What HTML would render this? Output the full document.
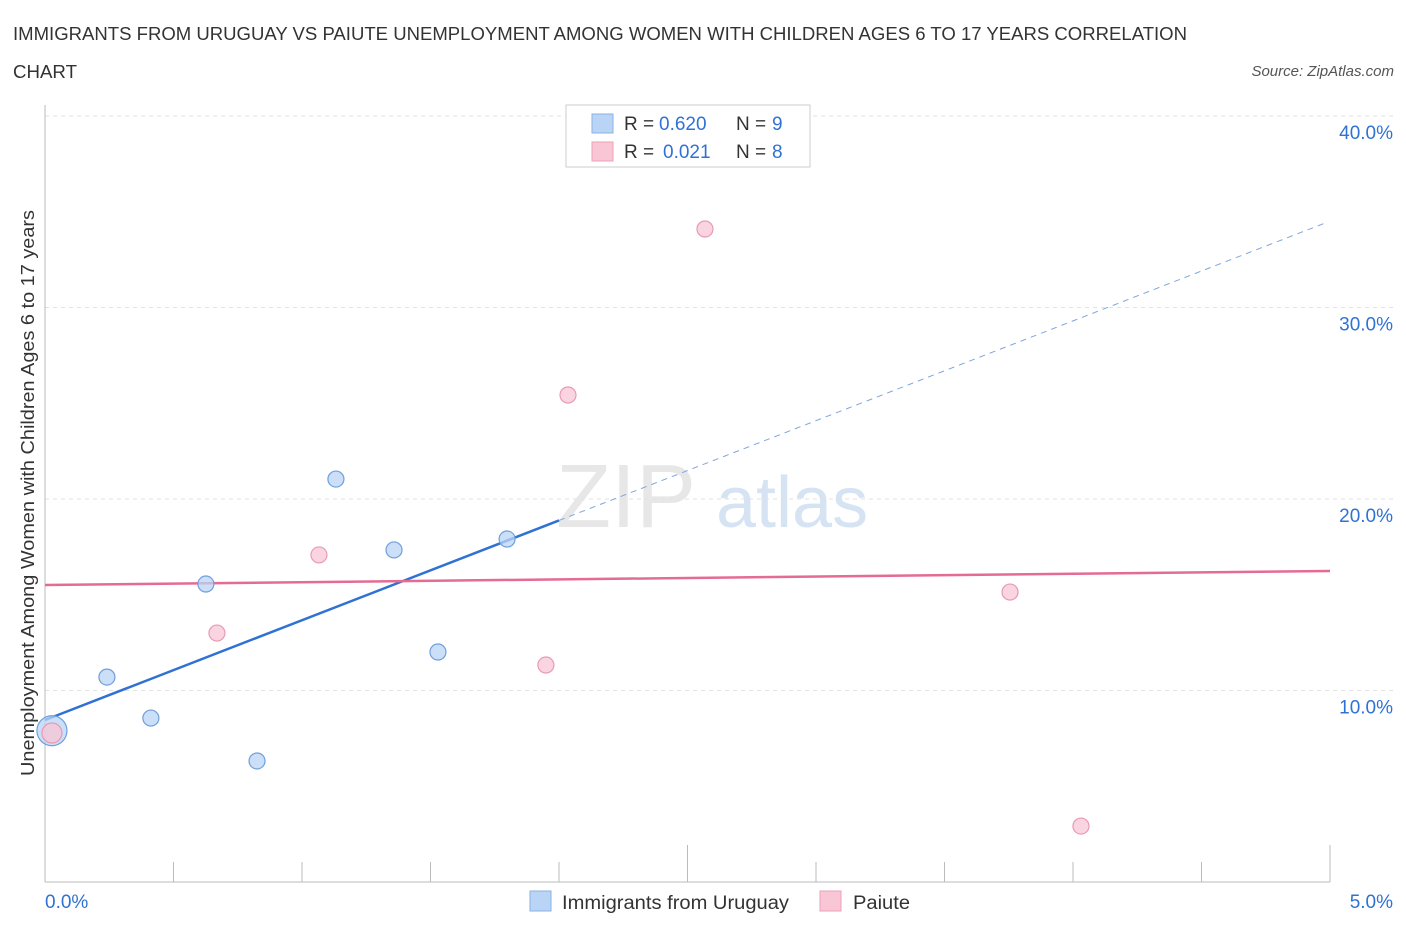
<!DOCTYPE html>
<html><head><meta charset="utf-8">
<style>
body{margin:0;background:#fff;font-family:"Liberation Sans",sans-serif;}
svg text{font-family:"Liberation Sans",sans-serif;}
</style></head>
<body>
<svg id="chart" width="1406" height="930" xmlns="http://www.w3.org/2000/svg">
<text x="13" y="40" font-size="18" fill="#333" textLength="1174" lengthAdjust="spacingAndGlyphs">IMMIGRANTS FROM URUGUAY VS PAIUTE UNEMPLOYMENT AMONG WOMEN WITH CHILDREN AGES 6 TO 17 YEARS CORRELATION</text>
<text x="13" y="78" font-size="18" fill="#333" textLength="64" lengthAdjust="spacingAndGlyphs">CHART</text>
<text x="1394" y="76" font-size="15" fill="#555" font-style="italic" text-anchor="end">Source: ZipAtlas.com</text>
<text transform="translate(34,493) rotate(-90)" font-size="18" fill="#333" text-anchor="middle" textLength="566" lengthAdjust="spacingAndGlyphs">Unemployment Among Women with Children Ages 6 to 17 years</text>
<text x="556" y="527" font-size="90" fill="#ddd" font-family="Liberation Serif" opacity="0.7">ZIP</text>
<text x="716" y="527" font-size="72" fill="#c5d8ef" opacity="0.7">atlas</text>
<g id="grid"></g><g id="axes"></g><g id="lines"></g><g id="points"></g>
<g>
<rect x="566" y="105" width="244" height="62" fill="#fff" stroke="#ccc"/>
<rect x="592" y="114" width="21" height="19" fill="#b9d4f5" stroke="#8ab2e6"/>
<text x="624" y="130" font-size="19" fill="#333">R =</text>
<text x="659" y="130" font-size="19" fill="#2f72d4">0.620</text>
<text x="736" y="130" font-size="19" fill="#333">N =</text>
<text x="772" y="130" font-size="19" fill="#2f72d4">9</text>
<rect x="592" y="142" width="21" height="19" fill="#f8c6d5" stroke="#eba1b7"/>
<text x="624" y="158" font-size="19" fill="#333">R =</text>
<text x="663" y="158" font-size="19" fill="#2f72d4">0.021</text>
<text x="736" y="158" font-size="19" fill="#333">N =</text>
<text x="772" y="158" font-size="19" fill="#2f72d4">8</text>
</g>
<g>
<rect x="530" y="891" width="21" height="20" fill="#b9d4f5" stroke="#8ab2e6"/>
<text x="562" y="909" font-size="19" fill="#333" textLength="227" lengthAdjust="spacingAndGlyphs">Immigrants from Uruguay</text>
<rect x="820" y="891" width="21" height="20" fill="#f8c6d5" stroke="#eba1b7"/>
<text x="853" y="909" font-size="19" fill="#333" textLength="57" lengthAdjust="spacingAndGlyphs">Paiute</text>
</g>
</svg>
<script>
const blueX=[0.027,0.241,0.412,0.626,0.825,1.132,1.358,1.529,1.798];
const blueY=[7.9,10.7,8.56,15.56,6.32,21.04,17.34,12.01,17.91];
const pinkX=[0.027,0.669,1.066,1.949,2.035,2.568,3.755,4.031];
const pinkY=[7.78,13.0,17.08,11.33,25.43,34.1,15.14,2.92];
const blueFit=[8.46,5.21];
const pinkFit=[15.51,0.146];
const yTicks=[10,20,30,40];
const yTickLabels=["10.0%","20.0%","30.0%","40.0%"];
const NS="http://www.w3.org/2000/svg";
const X=v=>45+v/5*1285, Y=v=>882-v*19.15;
function mk(t,a,p){const e=document.createElementNS(NS,t);for(const k in a)e.setAttribute(k,a[k]);document.getElementById(p).appendChild(e);return e;}
yTicks.forEach((t,i)=>{
 const g=mk('line',{x1:45,x2:1394,y1:Y(t),y2:Y(t),stroke:'#e2e2e2','stroke-dasharray':'4,4'},'grid');
 
 
 const l=mk('text',{x:1393,y:Y(t)+23,'font-size':19,fill:'#2f72d4','text-anchor':'end'},'axes');
 l.textContent=yTickLabels[i];
 
 
});
let ax=mk('line',{x1:45,x2:45,y1:105,y2:882,stroke:'#bbb'},'axes');


ax=mk('line',{x1:45,x2:1330,y1:882,y2:882,stroke:'#bbb'},'axes');


for(let i=0;i<=10;i++){const v=i*0.5;const tk=mk('line',{x1:X(v),x2:X(v),y1:(i%5==0&&i>0)?845:862,y2:882,stroke:'#bbb'},'axes');
 
 }
let xl=mk('text',{x:45,y:908,'font-size':19,fill:'#2f72d4'},'axes');xl.textContent='0.0%';


xl=mk('text',{x:1393,y:908,'font-size':19,fill:'#2f72d4','text-anchor':'end'},'axes');xl.textContent='5.0%';


const bf=x=>blueFit[0]+blueFit[1]*x, pf=x=>pinkFit[0]+pinkFit[1]*x;
let ln=mk('line',{x1:X(0),y1:Y(bf(0)),x2:X(2),y2:Y(bf(2)),stroke:'#2f72d4','stroke-width':2.5},'lines');


ln=mk('line',{x1:X(2),y1:Y(bf(2)),x2:X(4.99),y2:Y(bf(4.99)),stroke:'#7fa6dc','stroke-width':1,'stroke-dasharray':'6,5'},'lines');


ln=mk('line',{x1:X(0),y1:Y(pf(0)),x2:X(5),y2:Y(pf(5)),stroke:'#e46b93','stroke-width':2.5},'lines');


blueX.forEach((x,i)=>{const c=mk('circle',{cx:X(x),cy:Y(blueY[i]),r:i==0?15:8,fill:'#b9d4f5','fill-opacity':0.75,stroke:'#6f9fdc','stroke-width':1.2},'points');
 
 });
pinkX.forEach((x,i)=>{const c=mk('circle',{cx:X(x),cy:Y(pinkY[i]),r:i==0?10:8,fill:'#f8c6d5','fill-opacity':0.75,stroke:'#e89ab2','stroke-width':1.2},'points');
 
 });
</script>
</body></html>
